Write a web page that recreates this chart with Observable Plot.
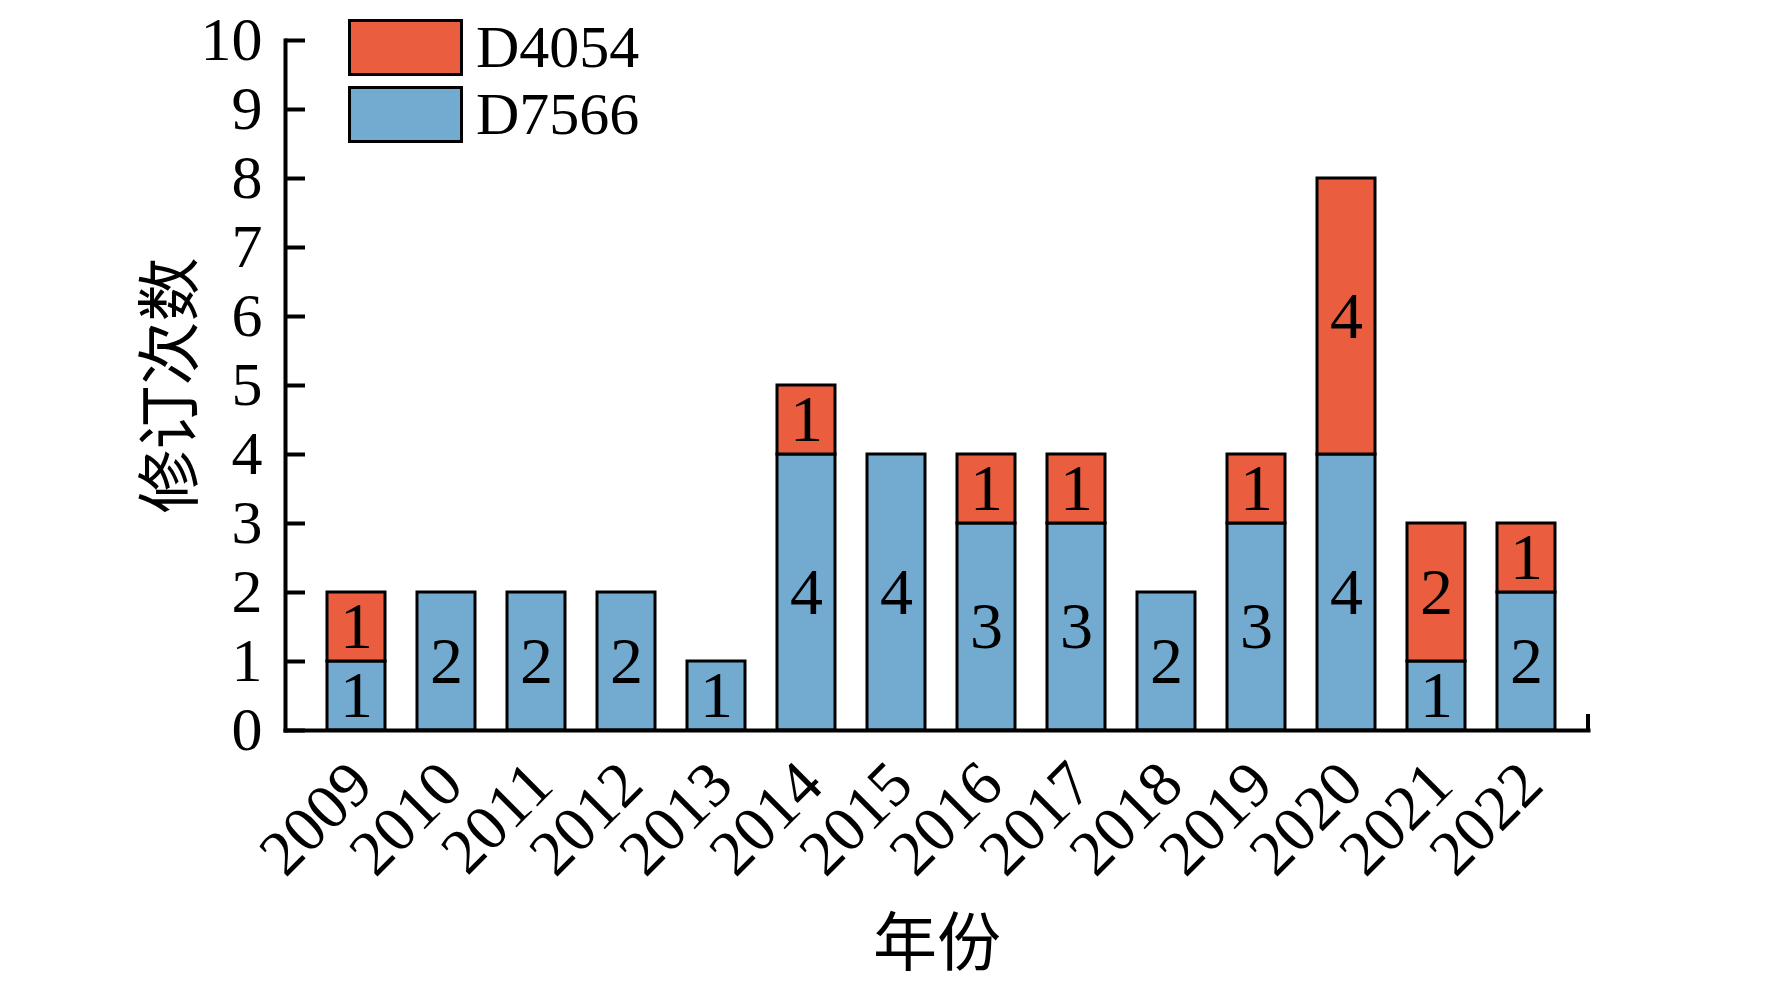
<!DOCTYPE html>
<html>
<head>
<meta charset="utf-8">
<script src="https://cdn.jsdelivr.net/npm/d3@7"></script>
<script src="https://cdn.jsdelivr.net/npm/@observablehq/plot@0.6"></script>
<style>
  body { margin: 0; background: #fff; }
  #wrap { position: relative; width: 1772px; height: 981px; }
  #legend { position: absolute; left: 348px; top: 19px; font-family: "Liberation Serif", serif; font-size: 60px; color: #000; }
  .item { display: flex; align-items: center; height: 57px; margin-bottom: 10px; }
  .sw { width: 109px; height: 51px; border: 3px solid #000; margin-right: 13px; }
  .lab { display: inline-block; height: 57px; line-height: 57px; }
</style>
</head>
<body>
<div id="wrap"></div>
<script>
const years = ["2009","2010","2011","2012","2013","2014","2015","2016","2017","2018","2019","2020","2021","2022"];
const seriesNames = ["D7566", "D4054"];
const d7566 = [1, 2, 2, 2, 1, 4, 4, 3, 3, 2, 3, 4, 1, 2];
const d4054 = [1, 0, 0, 0, 0, 1, 0, 1, 1, 0, 1, 4, 2, 1];
const colors = ["#72AAD0", "#EA5E3F"];
const yTicks = [0, 1, 2, 3, 4, 5, 6, 7, 8, 9, 10];
const xTitle = "年份";
const yTitle = "修订次数";

const rows = [];
years.forEach((yr, i) => rows.push({year: yr, series: seriesNames[0], value: d7566[i]}));
years.forEach((yr, i) => rows.push({year: yr, series: seriesNames[1], value: d4054[i]}));
const data = rows.filter(d => d.value > 0);

const endTick = (index, scales, values, dims) => {
  const g = d3.create("svg:g");
  const x = dims.width - dims.marginRight;
  const y = dims.height - dims.marginBottom;
  g.append("line").attr("x1", x).attr("x2", x).attr("y1", y + 2).attr("y2", y - 16)
    .attr("stroke", "#000").attr("stroke-width", 4);
  return g.node();
};

const chart = Plot.plot({
  width: 1772,
  height: 981,
  marginLeft: 285,
  marginRight: 184,
  marginTop: 40,
  marginBottom: 251,
  style: {fontFamily: "'Liberation Serif', 'Noto Sans CJK SC', serif", fontSize: "62px", color: "#000", background: "#fff"},
  x: {domain: years, range: [285, 1596], paddingInner: 0.36, paddingOuter: 0.396},
  y: {domain: [0, 10]},
  color: {domain: seriesNames, range: colors},
  marks: [
    Plot.barY(data, {x: "year", y: "value", fill: "series", stroke: "#000", strokeWidth: 3}),
    Plot.text(data, Plot.stackY({x: "year", y: "value", text: d => String(d.value), fontSize: 66, fill: "#000"})),
    Plot.frame({anchor: "left", strokeWidth: 4}),
    Plot.frame({anchor: "bottom", strokeWidth: 4}),
    endTick,
    Plot.axisY({ticks: yTicks, tickSize: -20, tickPadding: 43, strokeWidth: 4, tickFormat: d => String(d), fontSize: 62, label: null}),
    Plot.axisY({ticks: [], label: yTitle, labelAnchor: "center", labelArrow: "none", labelOffset: 139, fontSize: 64}),
    Plot.axisX({tickSize: 0, tickRotate: -45, tickPadding: 43, dx: 5, textAnchor: "end", lineAnchor: "middle", fontSize: 64,
      label: xTitle, labelAnchor: "center", labelArrow: "none", labelOffset: 234})
  ]
});

const wrap = document.getElementById("wrap");
wrap.appendChild(chart);

const legend = document.createElement("div");
legend.id = "legend";
[1, 0].forEach(k => {
  const item = document.createElement("div");
  item.className = "item";
  const sw = document.createElement("div");
  sw.className = "sw";
  sw.style.background = colors[k];
  const lab = document.createElement("span");
  lab.className = "lab";
  lab.textContent = seriesNames[k];
  item.appendChild(sw);
  item.appendChild(lab);
  legend.appendChild(item);
});
wrap.appendChild(legend);
</script>
</body>
</html>
